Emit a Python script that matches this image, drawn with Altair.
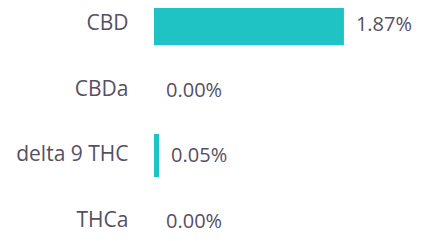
import altair as alt
import pandas as pd

categories = ["CBD", "CBDa", "delta 9 THC", "THCa"]
values = [1.87, 0.00, 0.05, 0.00]
labels = ["1.87%", "0.00%", "0.05%", "0.00%"]

df = pd.DataFrame({"cat": categories, "val": values, "lab": labels})

FONT = "Open Sans"
TXT = "#56505f"

y = alt.Y("cat:N", sort=categories, title=None,
          scale=alt.Scale(range=[-6, 235], paddingInner=0.346, paddingOuter=0),
          axis=alt.Axis(domain=False, ticks=False, tickSize=0, labelPadding=26, grid=False,
                        labelFont=FONT, labelFontSize=21, labelColor=TXT, labelLimit=300))
x = alt.X("val:Q", title=None, scale=alt.Scale(domain=[0, 2.55], nice=False),
          axis=None)

bars = alt.Chart(df).mark_bar(color="#1fc3c4").encode(x=x, y=y)
text = alt.Chart(df).mark_text(align="left", baseline="middle", dx=12, dy=1,
                               font=FONT, fontSize=20, color=TXT).encode(
    x=x, y=alt.Y("cat:N", sort=categories), text="lab:N")

chart = (bars + text).properties(
    width=259, height=225,
    autosize=alt.AutoSizeParams(type="none"),
    padding={"left": 146, "top": 0, "right": 0, "bottom": 0},
).configure(background="white").configure_view(stroke=None)

chart.save("out.html", embed_options={"renderer": "svg", "actions": False})
